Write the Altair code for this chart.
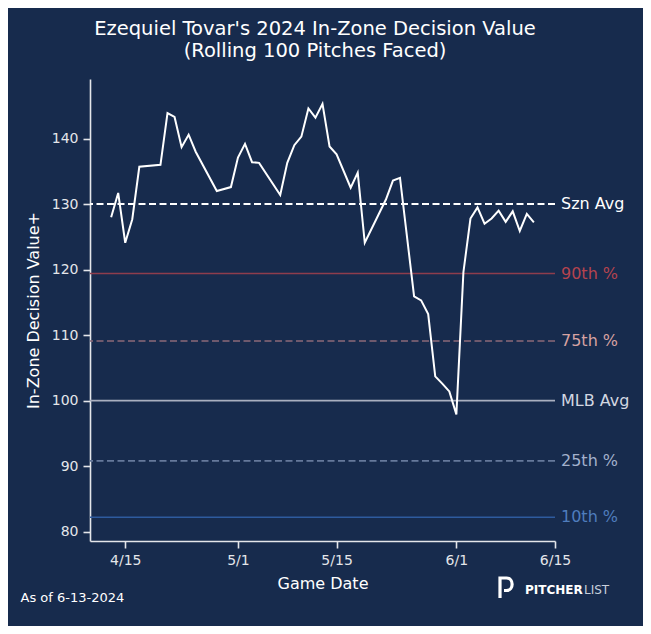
import altair as alt
import pandas as pd

# rolling in-zone decision value, one point per game
dates = [
    "2024-04-13", "2024-04-14", "2024-04-15", "2024-04-16", "2024-04-17",
    "2024-04-20", "2024-04-21", "2024-04-22", "2024-04-23", "2024-04-24",
    "2024-04-25", "2024-04-28", "2024-04-30", "2024-05-01", "2024-05-02",
    "2024-05-03", "2024-05-04", "2024-05-07", "2024-05-08", "2024-05-09",
    "2024-05-10", "2024-05-11", "2024-05-12", "2024-05-13", "2024-05-14",
    "2024-05-15", "2024-05-17", "2024-05-18", "2024-05-19", "2024-05-22",
    "2024-05-23", "2024-05-24", "2024-05-26", "2024-05-27", "2024-05-28",
    "2024-05-29", "2024-05-30", "2024-05-31", "2024-06-01", "2024-06-02",
    "2024-06-03", "2024-06-04", "2024-06-05", "2024-06-06", "2024-06-07",
    "2024-06-08", "2024-06-09", "2024-06-10", "2024-06-11", "2024-06-12",
]
values = [
    128.0, 131.7, 124.1, 127.7, 135.7,
    136.0, 143.9, 143.3, 138.7, 140.6,
    138.0, 132.0, 132.6, 137.1, 139.2,
    136.4, 136.3, 131.4, 136.3, 139.0,
    140.3, 144.6, 143.2, 145.3, 138.8,
    137.6, 132.5, 134.8, 124.1, 130.7,
    133.6, 134.0, 115.9, 115.3, 113.2,
    103.7, 102.6, 101.4, 97.9, 119.6,
    127.8, 129.5, 127.0, 127.8, 129.0,
    127.3, 128.9, 125.9, 128.5, 127.2,
]

# reference lines
ref_labels = ["Szn Avg", "90th %", "75th %", "MLB Avg", "25th %", "10th %"]
ref_values = [130.0, 119.4, 109.1, 100.0, 90.8, 82.2]

y_ticks = [80, 90, 100, 110, 120, 130, 140]
x_ticks = [(4, 15), (5, 1), (5, 15), (6, 1), (6, 15)]

BG = "#172b4d"
AXIS = "#e4e6ea"
FONT = "DejaVu Sans"

# line colour, label colour, dashed?, width
styles = {
    "Szn Avg": ("#ffffff", "#ffffff", True, 2),
    "90th %": ("#8e3d4d", "#b5434f", False, 1.6),
    "75th %": ("#8c6a78", "#d6a2a2", True, 1.6),
    "MLB Avg": ("#a9afbf", "#d2d7e1", False, 1.6),
    "25th %": ("#66799b", "#a3b1cc", True, 1.6),
    "10th %": ("#2e5b9e", "#4f7dbd", False, 1.6),
}

df = pd.DataFrame({"date": dates, "value": values})

y_scale = alt.Scale(domain=[78.57, 149.1], nice=False, zero=False)
x_scale = alt.Scale(
    type="utc",
    domain=[alt.DateTime(year=2024, month=4, date=10, utc=True),
            alt.DateTime(year=2024, month=6, date=15, utc=True)],
)

base_x = alt.X(
    "date:T",
    scale=x_scale,
    axis=alt.Axis(
        values=[alt.DateTime(year=2024, month=m, date=d, utc=True) for m, d in x_ticks],
        labelExpr="(utcmonth(datum.value) + 1) + '/' + utcdate(datum.value)",
        labelFlush=False, labelOverlap=False,
        title="Game Date", labelPadding=5, titlePadding=8,
    ),
)
base_y = alt.Y(
    "value:Q",
    scale=y_scale,
    axis=alt.Axis(values=y_ticks, title="In-Zone Decision Value+",
                  labelPadding=5, titlePadding=10),
)

layers = []
for lab, val in zip(ref_labels, ref_values):
    line_col, text_col, dashed, sw = styles[lab]
    rdf = pd.DataFrame({"value": [val], "label": [lab]})
    rule = alt.Chart(rdf).mark_rule(
        color=line_col, strokeWidth=sw,
        strokeDash=[7, 3.5] if dashed else [1, 0],
    ).encode(y=alt.Y("value:Q", scale=y_scale))
    text = alt.Chart(rdf).mark_text(
        align="left", baseline="middle", fontSize=16, color=text_col, font=FONT,
    ).encode(y=alt.Y("value:Q", scale=y_scale), x=alt.value(471), text="label:N")
    layers += [rule, text]

line = alt.Chart(df).mark_line(color="white", strokeWidth=2).encode(x=base_x, y=base_y)

# annotations outside the plot area
notes = pd.DataFrame({"t": ["Ezequiel Tovar's 2024 In-Zone Decision Value",
                            "(Rolling 100 Pitches Faced)", "As of 6-13-2024",
                            "PITCHER", "LIST"]})

def note(i, x, y, size, align="center", color="white", weight="normal"):
    return alt.Chart(notes.iloc[[i]]).mark_text(
        align=align, baseline="alphabetic", fontSize=size, color=color,
        font=FONT, fontWeight=weight,
    ).encode(x=alt.value(x), y=alt.value(y), text="t:N")

title1 = note(0, 225, -44, 19.5)
title2 = note(1, 225, -22.5, 19.5)
asof = note(2, -69.5, 522.5, 13, align="left")
pl1 = note(3, 435, 514.5, 12, align="left", weight="bold")
pl2 = note(4, 494, 514.5, 12, align="left", color="#c9d0dc")

logo = alt.Chart(pd.DataFrame({"a": [0]})).mark_point(
    shape="M -0.6,1 L -0.6,-1 L 0.05,-1 C 0.8,-1 0.8,0.25 0.05,0.25 L -0.2,0.25",
    filled=False, stroke="white", strokeWidth=3.2, size=400, opacity=1,
).encode(x=alt.value(416), y=alt.value(509))

chart = alt.layer(*layers, line, title1, title2, asof, pl1, pl2, logo).properties(
    width=465, height=462,
    autosize="none",
    padding={"left": 82, "top": 71, "right": 88, "bottom": 85},
    background=BG,
).configure_view(stroke=None).configure_axis(
    grid=False,
    domainColor=AXIS, domainWidth=1.6,
    tickColor=AXIS, tickWidth=1.6, tickSize=7,
    labelColor=AXIS, labelFontSize=14, labelFont=FONT,
    titleColor="white", titleFontSize=16, titleFont=FONT, titleFontWeight="normal",
)

chart.save("out.html", embed_options={"renderer": "svg", "actions": False})
